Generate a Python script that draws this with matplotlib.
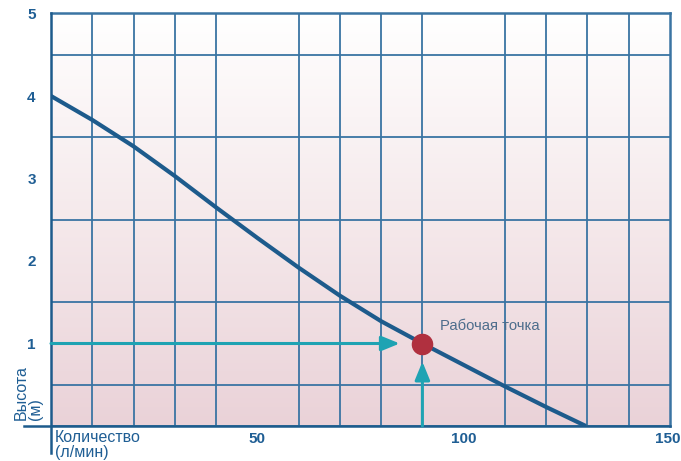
import numpy as np
import matplotlib.pyplot as plt
import matplotlib.transforms as mtransforms
from matplotlib.colors import LinearSegmentedColormap

plt.rcParams['font.family'] = ['Liberation Sans', 'DejaVu Sans']

# pump curve
flow = [0, 10, 20, 30, 40, 50, 60, 70, 80, 90, 100, 110, 120, 129.6]
head = [4.0, 3.71, 3.39, 3.03, 2.65, 2.28, 1.92, 1.58, 1.27, 1.0, 0.74, 0.48, 0.23, 0.0]

work_flow = 90
work_head = 1.0
work_label = 'Рабочая точка'

x_ticks = [50, 100, 150]
y_ticks = [1, 2, 3, 4, 5]

grid_col = '#3a74a3'
text_col = '#1f5e94'
curve_col = '#1d5b8c'
arrow_col = '#1fa3b3'
dot_col = '#b0303f'

fig = plt.figure(figsize=(6.81, 4.61), dpi=100)
ax = fig.add_axes([51 / 681, 35 / 461, 619 / 681, 412.5 / 461])
ax.set_xlim(0, 150)
ax.set_ylim(0, 5)

# gradient background white -> pink
grad = np.linspace(0, 1, 256).reshape(-1, 1)
cmap = LinearSegmentedColormap.from_list('bg', ['#ead2d8', '#f5e9eb', '#ffffff'])
ax.imshow(grad, cmap=cmap, extent=[0, 150, 0, 5], aspect='auto', origin='lower', zorder=0)

# grid
ax.set_xticks(np.arange(0, 151, 10), minor=True)
ax.set_yticks(np.arange(0, 5.01, 0.5), minor=True)
ax.grid(which='minor', color=grid_col, lw=1.3, zorder=1)
ax.set_xticks(x_ticks)
ax.set_yticks(y_ticks)
ax.tick_params(which='both', length=0)
ax.tick_params(axis='x', pad=4)
ax.tick_params(axis='y', pad=11)
for lab in ax.get_xticklabels() + ax.get_yticklabels():
    lab.set_fontweight('bold')
    lab.set_color(text_col)
    lab.set_fontsize(11)

# last x label sits flush with the right edge in the original
last = ax.get_xticklabels()[-1]
last.set_horizontalalignment('right')
last.set_transform(last.get_transform() + mtransforms.ScaledTranslation(10 / 100, 0, fig.dpi_scale_trans))

for s in ax.spines.values():
    s.set_color(grid_col)
    s.set_linewidth(1.8)
ax.spines['left'].set_visible(False)
ax.spines['bottom'].set_visible(False)

# extended axis lines
ax.plot([0, 0], [-0.33, 5], color=curve_col, lw=1.8, clip_on=False, zorder=5)
ax.plot([-6.5, 150], [0, 0], color=curve_col, lw=1.8, clip_on=False, zorder=5)

# curve
ax.plot(flow, head, color=curve_col, lw=3, solid_capstyle='butt',
        solid_joinstyle='round', zorder=4)

# arrows to working point
ax.annotate('', xy=(work_flow - 5.5, work_head), xytext=(0, work_head),
            arrowprops=dict(arrowstyle='-|>,head_length=1.1,head_width=0.45',
                            color=arrow_col, lw=2.2, shrinkA=0, shrinkB=0), zorder=6)
ax.annotate('', xy=(work_flow, work_head - 0.22), xytext=(work_flow, 0),
            arrowprops=dict(arrowstyle='-|>,head_length=1.1,head_width=0.45',
                            color=arrow_col, lw=2.2, shrinkA=0, shrinkB=0), zorder=6)

ax.plot(work_flow, work_head, 'o', color=dot_col, ms=14.5, zorder=7)
ax.text(94.3, 1.21, work_label, color='#4d6d8c', fontsize=10.6, va='center', ha='left', zorder=7)

# axis titles
fig.text(14 / 681, 41 / 461, 'Высота\n(м)', rotation=90, ha='left', va='bottom',
         multialignment='left', color=text_col, fontsize=11.5, linespacing=0.95)
fig.text(55 / 681, 1 / 461, 'Количество\n(л/мин)', ha='left', va='bottom',
         color=text_col, fontsize=11.5, linespacing=1.0)

fig.savefig('out.png', dpi=100)
